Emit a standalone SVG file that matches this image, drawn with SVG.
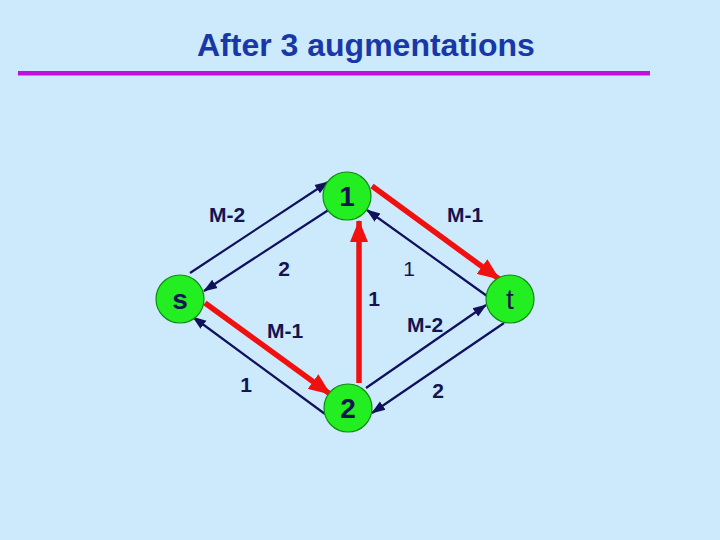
<svg xmlns="http://www.w3.org/2000/svg" width="720" height="540" viewBox="0 0 720 540">
<defs>
<style>
.bg{fill:#cdeafc}
.title{font-family:"Liberation Sans",Arial,sans-serif;font-weight:bold;font-size:32px;fill:#1838a8}
.node circle{fill:#22ee22;stroke:#128a12;stroke-width:1.2}
.node text{font-family:"Liberation Sans",Arial,sans-serif;font-size:28px;fill:#141450;text-anchor:middle}
.e{stroke:#10105c;stroke-width:2.2;fill:none;marker-end:url(#an)}
.r{stroke:#f01010;stroke-width:5.5;fill:none;marker-end:url(#ar)}
.lbl{font-family:"Liberation Sans",Arial,sans-serif;font-size:21px;fill:#141450;text-anchor:middle}
.b{font-weight:bold}
</style>
<marker id="an" markerUnits="userSpaceOnUse" markerWidth="14" markerHeight="12" viewBox="0 0 14 12" refX="13" refY="6" orient="auto">
<path d="M0,1 L14,6 L0,11 Z" fill="#10105c"/>
</marker>
<marker id="ar" markerUnits="userSpaceOnUse" markerWidth="22" markerHeight="18" viewBox="0 0 22 18" refX="21" refY="9" orient="auto">
<path d="M0,0 L22,9 L0,18 Z" fill="#f01010"/>
</marker>
</defs>
<rect class="bg" x="0" y="0" width="720" height="540"/>
<text class="title" x="197" y="56">After 3 augmentations</text>
<rect x="18" y="71" width="632" height="4.5" fill="#c010e0"/>
<g id="connectors">
<line class="e" x1="190" y1="273" x2="328" y2="182"/>
<line class="e" x1="330" y1="209" x2="204" y2="291"/>
<line class="r" x1="372" y1="186" x2="499" y2="279"/>
<line class="e" x1="487" y1="296" x2="367" y2="210"/>
<line class="r" x1="359" y1="383" x2="359" y2="221"/>
<line class="r" x1="205" y1="303" x2="330" y2="394"/>
<line class="e" x1="325" y1="414" x2="193" y2="317"/>
<line class="e" x1="366" y1="388" x2="486" y2="305"/>
<line class="e" x1="504" y1="323" x2="372" y2="413"/>
</g>
<g id="labels">
<text class="lbl b" x="227" y="222">M-2</text>
<text class="lbl b" x="284" y="276">2</text>
<text class="lbl b" x="465" y="222">M-1</text>
<text class="lbl" x="409" y="276">1</text>
<text class="lbl b" x="374" y="306">1</text>
<text class="lbl b" x="425" y="332">M-2</text>
<text class="lbl b" x="285" y="338">M-1</text>
<text class="lbl b" x="246" y="392">1</text>
<text class="lbl b" x="438" y="398">2</text>
</g>
<g id="node-1" class="node"><circle cx="347" cy="196" r="24"/><text x="347" y="206" font-weight="bold">1</text></g>
<g id="node-s" class="node"><circle cx="180" cy="299" r="24"/><text x="180" y="309" font-weight="bold">s</text></g>
<g id="node-t" class="node"><circle cx="510" cy="299" r="24"/><text x="510" y="309">t</text></g>
<g id="node-2" class="node"><circle cx="348" cy="408" r="24"/><text x="348" y="418" font-weight="bold">2</text></g>
</svg>
